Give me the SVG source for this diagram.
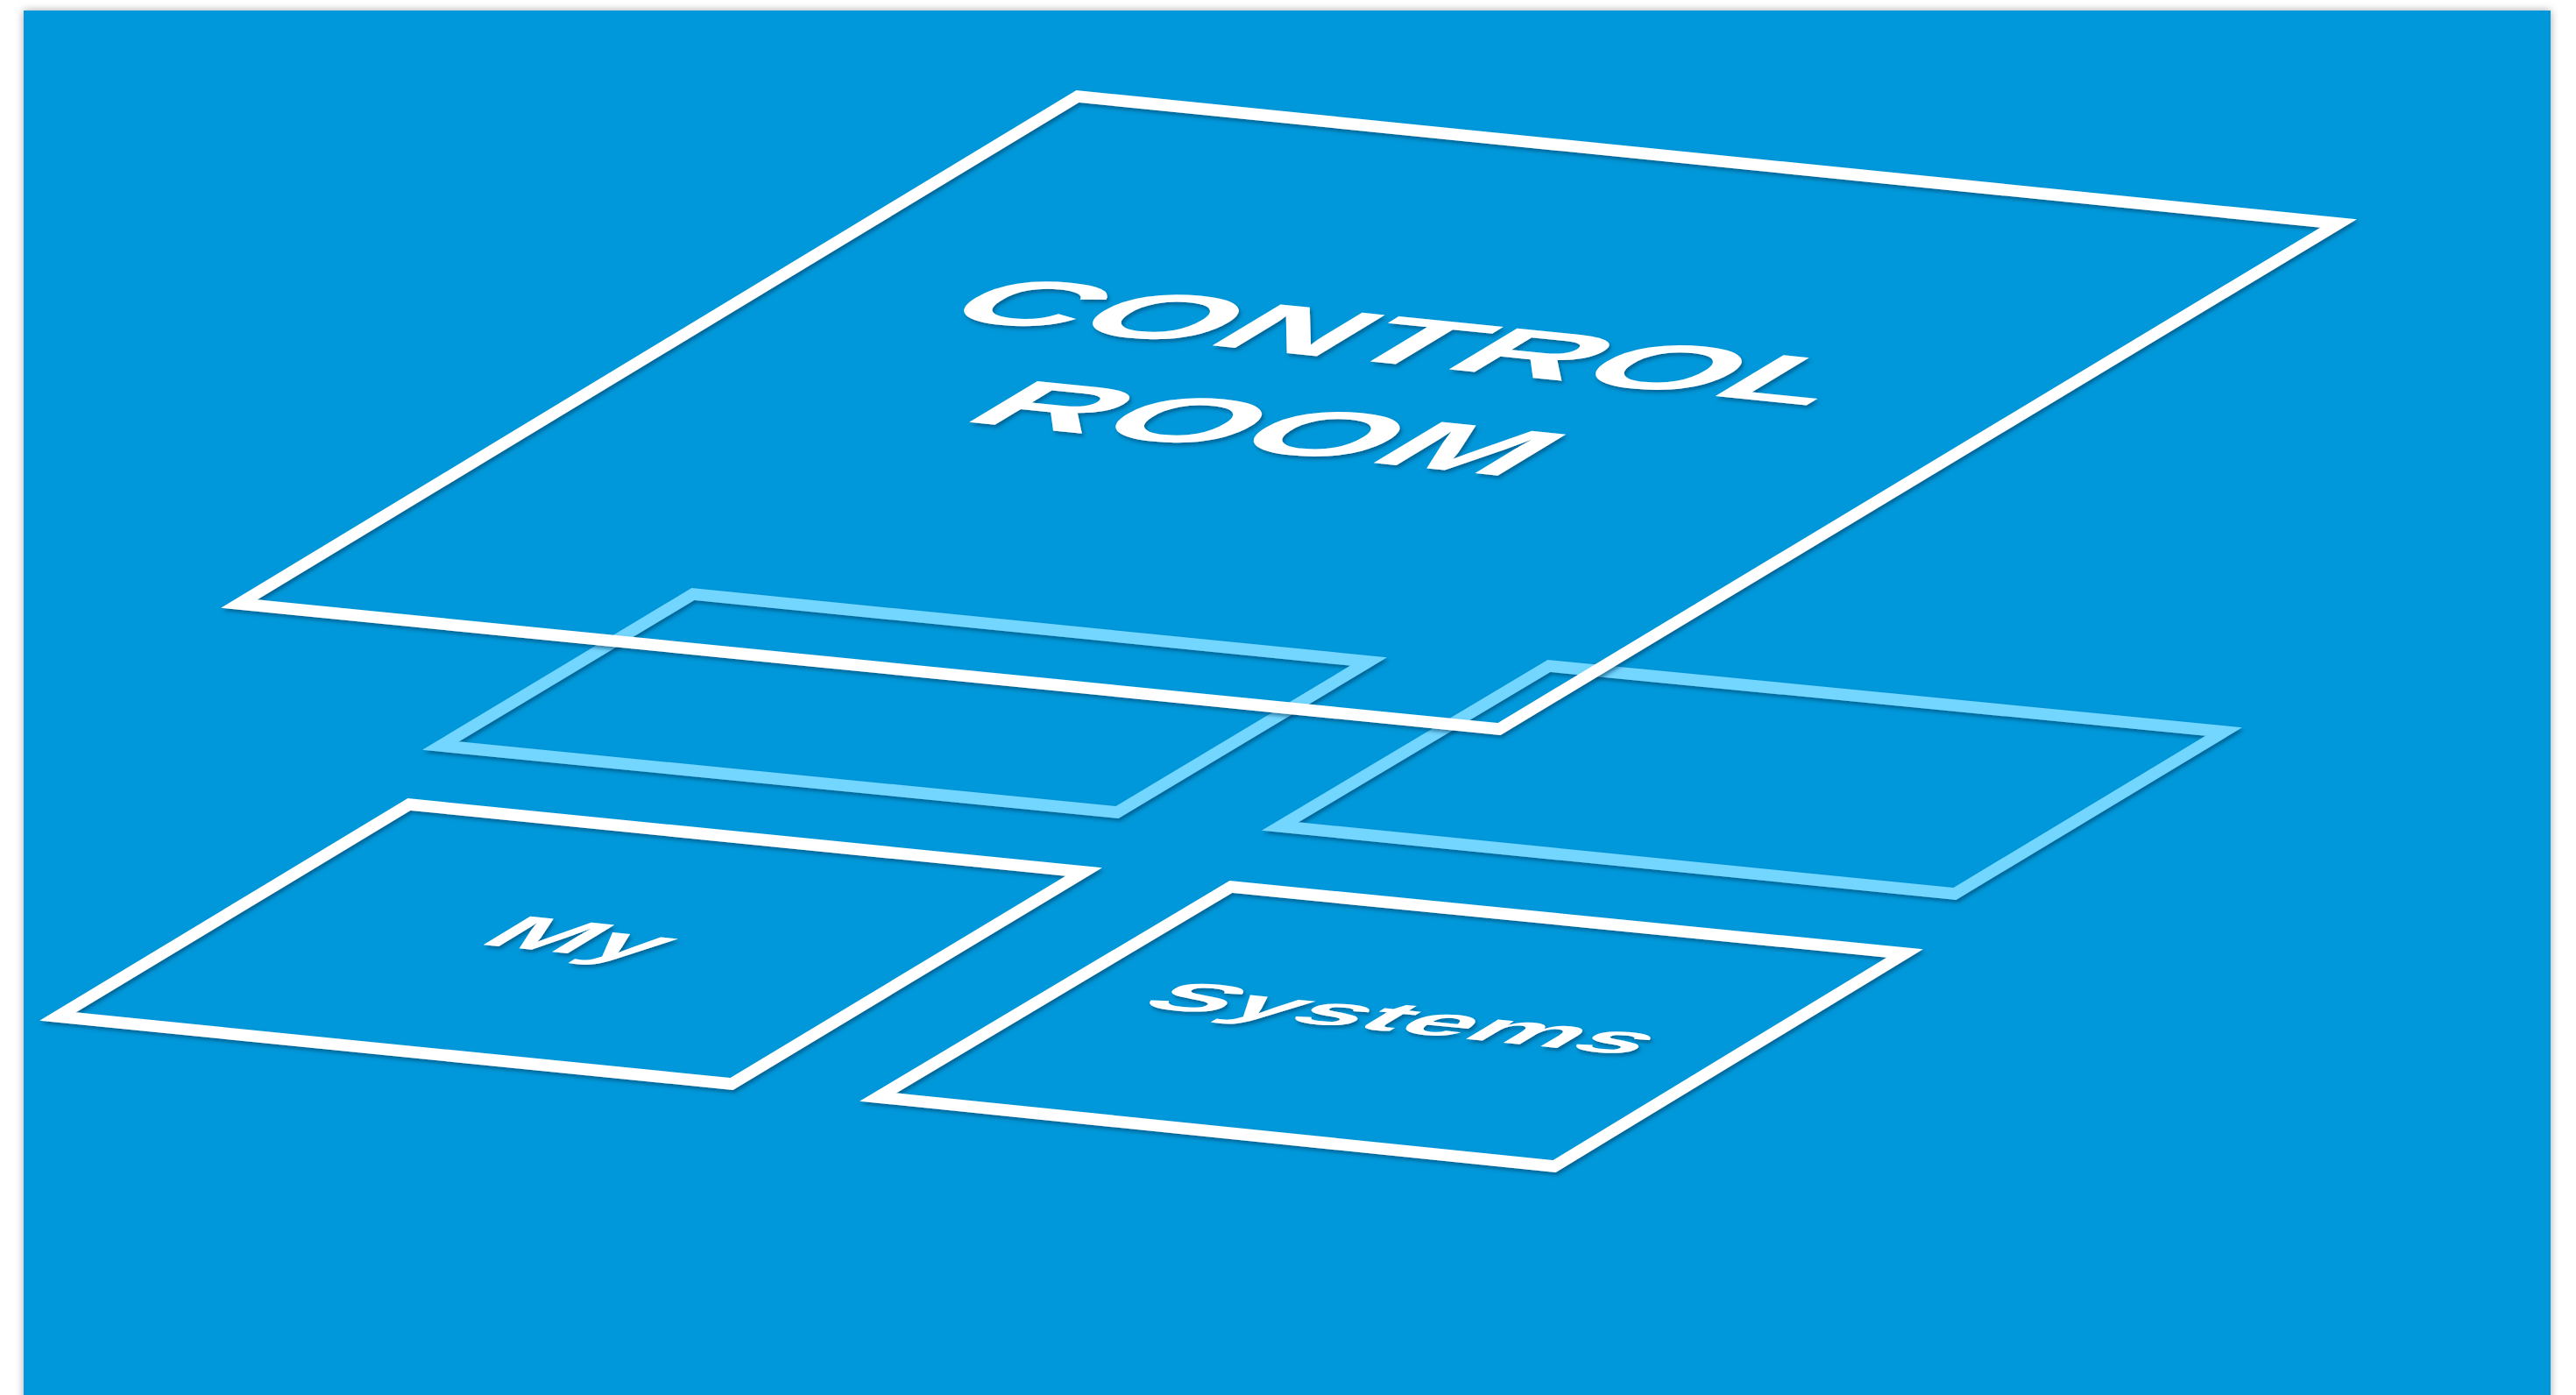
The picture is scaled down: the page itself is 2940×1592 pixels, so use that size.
<svg xmlns="http://www.w3.org/2000/svg" width="2940" height="1592" viewBox="0 0 2940 1592">
<defs>
<filter id="page" x="-5%" y="-5%" width="110%" height="110%"><feDropShadow dx="0" dy="0" stdDeviation="5" flood-color="#000" flood-opacity="0.35"/></filter>
<filter id="sh" x="-10%" y="-10%" width="120%" height="130%"><feDropShadow dx="2" dy="3" stdDeviation="2" flood-color="#003b63" flood-opacity="0.6"/></filter>
</defs>
<style>
.box{fill:none;stroke:#fff;stroke-width:13.5;stroke-linejoin:miter;stroke-miterlimit:10}
.lb{stroke:#72d6ff}
.t{font-family:"Liberation Sans",Arial,sans-serif;font-weight:bold;fill:#fff}
</style>
<rect x="27" y="12" width="2884" height="1620" fill="#0098da" filter="url(#page)"/>
<g id="connectors"/>
<g id="zone-left" filter="url(#sh)"><polygon class="box lb" points="791,678 1562,755 1275,927 503,851"/></g>
<g id="zone-right" filter="url(#sh)"><polygon class="box lb" points="1768,760 2538,835 2231,1020 1461,943"/></g>
<g id="my" filter="url(#sh)">
<polygon class="box" points="467,918 1237,995 835,1237 66,1160"/>
<g transform="matrix(0.762,0.077,-0.399,0.242,470,918)"><text class="t" font-size="195" text-anchor="middle" transform="translate(502,538) scale(0.925,1)">My</text></g>
</g>
<g id="systems" filter="url(#sh)">
<polygon class="box" points="1405,1012 2174,1088 1774,1331 1002,1252"/>
<g transform="matrix(0.762,0.075,-0.401,0.239,1408,1013)"><text class="t" font-size="175" text-anchor="middle" transform="translate(502,526) scale(1.03,1)">Systems</text></g>
</g>
<g id="control-room" filter="url(#sh)">
<polygon class="box" points="1230,110 2669,255 1711,832 273,689"/>
<g transform="matrix(1.431,0.144,-0.957,0.578,1234,111)">
<text class="t" font-size="118" text-anchor="middle" transform="translate(499,398) scale(1.2,1)">CONTROL</text>
<text class="t" font-size="118" text-anchor="middle" transform="translate(502,569) scale(1.2,1)">ROOM</text>
</g>
</g>
</svg>
